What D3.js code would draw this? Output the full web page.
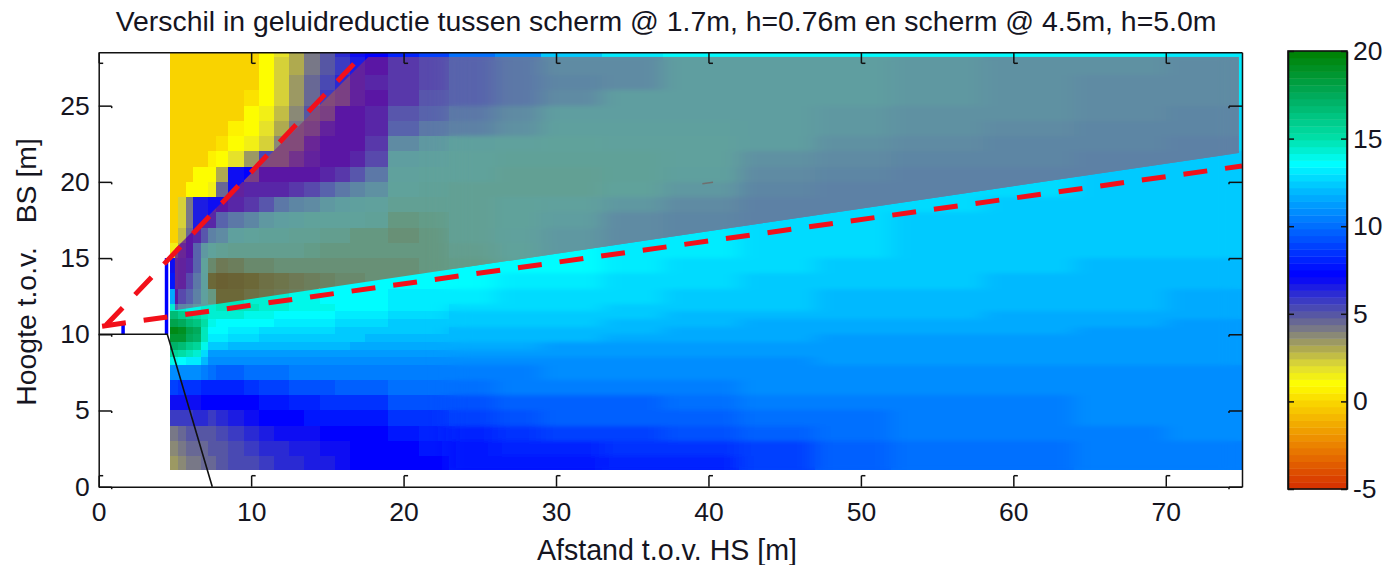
<!DOCTYPE html>
<html>
<head>
<meta charset="utf-8">
<script src="https://cdn.jsdelivr.net/npm/d3@7"></script>
<style>
  body { margin: 0; background: #fff; }
  text { font-family: "Liberation Sans", Arial, sans-serif; fill: #15151f; }
  .axis path, .axis line { stroke: #111; stroke-width: 1.5; fill: none; }
</style>
</head>
<body>
<svg id="chart" width="1398" height="565"></svg>
<script>
const G = -0.3; // the flat gold area
const _ = null; // cell that is hidden under the shadow zone, or outside it

// cell edges of the heat map (coarser to the right, where it hardly changes)
const xEdges = [4.68,5.2,5.7,6.2,6.7,7.2,7.7,8.5,9.5,10.5,11.5,12.5,13.5,14.5,15.5,16.5,17.5,19,21,23,26,29,33,37,42,47,52,58,64,70,74.8,75];
const yEdges = [28.5,28.2,27,26,25,24,23,22,21,20,19,18,17,16,15,14,13,12,11.5,11,10.5,10,9.5,9,8.5,8,7,6,5,4,3,2,1.1];

// difference in dB outside the shadow zone, rows from the top
const baseLevels = [
  [G,G,G,G,G,G,G,G,G,1,2,3,4,5,6,6.8,7.4,8,9,10,11,12.3,13.2,13.6,13.6,13.6,13.6,13.5,13.4,13.2,13],
  [G,G,G,G,G,G,G,G,G,1,2.1,3.2,4.3,5,5.8,6.6,7.2,_,_,_,_,_,_,_,_,_,_,_,_,_,13],
  [G,G,G,G,G,G,G,G,G,1,2.2,3.4,4.4,5.5,6.3,6.8,_,_,_,_,_,_,_,_,_,_,_,_,_,_,13],
  [G,G,G,G,G,G,G,G,0.2,1.2,2.2,3.4,4.6,5.7,6.5,_,_,_,_,_,_,_,_,_,_,_,_,_,_,_,13],
  [G,G,G,G,G,G,G,G,1,1.6,2.6,3.6,4.8,6,_,_,_,_,_,_,_,_,_,_,_,_,_,_,_,_,12.9],
  [G,G,G,G,G,G,G,0.6,1.1,1.9,2.9,4,5.5,_,_,_,_,_,_,_,_,_,_,_,_,_,_,_,_,_,12.9],
  [G,G,G,G,G,G,0.2,1,1.3,2.4,3.8,5,_,_,_,_,_,_,_,_,_,_,_,_,_,_,_,_,_,_,12.8],
  [G,G,G,G,0,0.8,1.1,2,3.5,5.5,6,_,_,_,_,_,_,_,_,_,_,_,_,_,_,_,_,_,12.5,12.5,12.5],
  [G,G,0,1,1.1,1.2,3.2,6.8,7.2,_,_,_,_,_,_,_,_,_,_,_,_,_,_,_,_,_,_,12.6,12.5,12.5,12.5],
  [G,G,1,1,1,1.3,4.5,6.8,_,_,_,_,_,_,_,_,_,_,_,_,_,_,_,_,_,_,12.6,12.6,12.5,12.4,12.4],
  [G,2.2,4.3,6.5,6.6,6.8,7,_,_,_,_,_,_,_,_,_,_,_,_,_,_,_,_,_,_,12.6,12.6,12.5,12.5,12.4,12.4],
  [G,2.2,4.3,6.4,6.6,6.8,_,_,_,_,_,_,_,_,_,_,_,_,_,_,_,_,_,12.9,12.7,12.6,12.5,12.5,12.4,12.4,12.4],
  [G,2.5,4.5,6.5,_,_,_,_,_,_,_,_,_,_,_,_,_,_,_,_,_,_,13.2,13,12.7,12.6,12.5,12.5,12.4,12.3,12.3],
  [1.5,3,_,_,_,_,_,_,_,_,_,_,_,_,_,_,_,_,_,_,13.6,13.5,13.3,13,12.7,12.6,12.5,12.5,12.4,12.2,12.2],
  [7,_,_,_,_,_,_,_,_,_,_,_,_,_,_,_,_,_,13.6,13.7,13.6,13.4,13.2,12.9,12.7,12.5,12.4,12.3,12.1,12,12],
  [7.5,_,_,_,_,_,_,_,_,_,_,_,_,13.7,13.7,13.7,13.7,13.7,13.6,13.5,13.3,13.1,12.9,12.8,12.5,12.3,12.2,12.1,12,11.9,11.9],
  [11.5,_,_,_,_,_,14.6,14.6,14.4,14.3,14.2,14,13.8,13.7,13.7,13.6,13.6,13.3,13.2,13,12.9,12.8,12.6,12.5,12.3,12.1,11.9,11.9,11.8,11.7,11.7],
  [14.5,14.2,14,14,14.2,14.4,14.6,14.6,14.6,14.4,14.2,14,13.9,13.8,13.7,13.6,13.4,13,13,12.7,12.7,12.6,12.4,12.4,12.2,12.1,11.9,11.8,11.8,11.7,11.7],
  [16.5,16,15.5,15.2,14.6,14.2,14.2,14.2,14,13.9,13.7,13.6,13.5,13.4,13.3,13.2,13,12.8,12.7,12.5,12.5,12.3,12.2,12.1,12,12,11.8,11.7,11.7,11.6,11.6],
  [18,17.5,16.5,16.2,15,13.8,13.7,13.6,13.5,13.4,13.3,13.2,13.1,13,12.9,12.8,12.7,12.5,12.4,12.2,12.2,12.2,12,11.9,11.7,11.6,11.6,11.5,11.5,11.4,11.4],
  [19.5,19.2,18,17.5,14.6,13.6,13.4,13.2,13,12.9,12.9,12.8,12.7,12.6,12.5,12.5,12.4,12.2,12.2,12,12,11.9,11.8,11.7,11.6,11.5,11.5,11.5,11.4,11.3,11.3],
  [18.8,18.5,17.5,17,14.6,13.2,13,12.7,12.6,12.5,12.4,12.4,12.3,12.2,12.2,12.2,12.1,12,11.9,11.8,11.8,11.8,11.7,11.5,11.5,11.4,11.4,11.4,11.3,11.3,11.3],
  [17,16.8,16,15.6,14,12.4,12.2,12.1,12,11.9,11.9,11.9,11.8,11.8,11.8,11.7,11.7,11.6,11.6,11.5,11.5,11.4,11.3,11.3,11.2,11.2,11.2,11.2,11.2,11.2,11.2],
  [15.5,15.2,14.6,14.4,12.8,11.4,11.3,11.2,11.2,11.2,11.3,11.3,11.3,11.3,11.3,11.3,11.4,11.4,11.3,11.3,11.2,11.1,11.1,11.1,11.1,11.1,11.1,11.1,11.1,11.1,11.1],
  [13.8,13.7,13.3,13.3,12,11,10.8,10.7,10.8,10.8,10.9,10.9,11,11,11,11,11,11,11,11,10.9,11,11,11,11,11.1,11.1,11.1,11.1,11.1,11.1],
  [11,11,10.8,10.8,10.4,10,9.8,9.8,10,10.1,10.2,10.3,10.4,10.4,10.5,10.5,10.5,10.5,10.5,10.6,10.6,10.7,10.7,10.9,11,10.9,10.9,11,11,11,11],
  [8.8,8.6,8.4,8.3,8.2,8,8,8.1,8.4,8.7,9,9.1,9.3,9.4,9.5,9.6,9.7,9.9,10,10.1,10.3,10.4,10.4,10.5,10.7,10.7,10.8,10.9,10.9,11,11],
  [7,7,7.1,7.1,7.2,7.2,7.2,7.3,7.4,7.6,7.8,8,8.1,8.3,8.4,8.5,8.6,9.2,9.3,9.3,9.7,9.8,9.8,10.2,10.3,10.4,10.5,10.6,10.7,10.7,10.7],
  [5.6,5.7,5.9,6,6,5.8,6.2,6.7,7.1,7.2,7.2,7.4,7.5,7.5,7.6,7.7,7.8,8.4,8.6,8.9,9.2,9.5,9.5,9.8,10,10.2,10.4,10.6,10.7,10.7,10.7],
  [4.3,4.5,4.8,4.9,5,5.1,5.4,5.8,6.2,6.6,6.8,7,7.1,7.2,7.2,7.3,7.4,7.7,7.9,8.2,8.5,8.8,9,9.3,9.6,10.2,10.3,10.4,10.6,10.7,10.7],
  [3.9,4.1,4.4,4.5,4.7,4.8,5,5.3,5.7,6,6.3,6.5,6.7,6.9,7.1,7.2,7.2,7.3,7.6,7.8,7.9,8.1,8.3,8.5,9,9.8,10,10.2,10.4,10.5,10.5],
  [3.5,3.8,4.2,4.3,4.4,4.6,4.9,5.2,5.5,5.8,6,6.2,6.5,6.7,7,7.2,7.2,7.3,7.4,7.5,7.6,7.8,8,8.2,8.9,9.6,9.9,10,10.4,10.4,10.4]
];

// difference in dB inside the shadow zone, starting at the second row
const shadowLevels = [
  [_,_,_,_,_,_,_,_,_,_,_,_,_,_,_,6.5,7,7.5,8,8.7,9.5,10.7,10.8,11.8,12,12,11.7,11.4,11.1,10.9],
  [_,_,_,_,_,_,_,_,_,_,_,_,_,_,5.5,6.6,7.2,7.8,8.2,8.8,9.6,10.6,11,12,12,12,11.6,11.3,11,10.8],
  [_,_,_,_,_,_,_,_,_,_,_,_,_,5,5.5,6.6,7,7.6,8.5,9,9.8,11,11.8,12,12,11.8,11.5,11.2,10.9,10.7],
  [_,_,_,_,_,_,_,_,_,_,_,_,5,5.2,6.8,7,7.2,8.4,9,9.5,10.8,12,12,12,11.9,11.7,11.4,11.1,10.8,10.6],
  [_,_,_,_,_,_,_,_,_,_,_,5,5.3,6.5,7,7,7.2,9,9.5,10.2,11.4,12.3,12.4,12.4,11.9,11.5,11.2,10.9,10.6,10.4],
  [_,_,_,_,_,_,_,_,_,_,5,5,6,6.8,7,7.1,7.5,10.8,11.5,12.4,12.6,13.2,12.8,12.6,12,11.4,11,10.6,10.3,10.1],
  [_,_,_,_,_,_,_,_,_,5,5,5.6,6.5,7,7,7.4,8.2,11.8,12.4,13,13.4,13.6,13.5,12.6,11.3,10.9,10.6,10.3,10.1,10],
  [_,_,_,_,_,_,_,_,5.5,6.8,6.9,7,7,7.2,7.6,8.4,9.5,12.6,13,13,13.8,14,13.4,12.2,10.8,10.4,10.2,10,9.9],
  [_,_,_,_,_,_,_,6.5,7.2,7.2,7.4,7.8,8.2,9,9.8,10.6,11.3,13.2,13.6,13.8,14,14,13,11.6,10.4,10.2,10,10],
  [_,_,_,_,_,6,7,7.2,7.8,8.6,9.6,10.5,11,11.5,12,12.3,12.6,14,14,13.8,13.2,12.6,11.6,10.8,10.2,10,9.9],
  [_,_,_,5.5,7.2,7.4,8.8,9.8,10.5,11.5,12,12.5,13,13,13,13.2,13.5,15,14.8,13.8,13,12,11,10.5,10.2,10],
  [_,5.5,7,7.2,8.5,10,11,12.5,13.2,13.6,13.6,13.8,14,14.2,14.5,15,15.3,15.4,15.3,14,12.8,11.5,10.8,10.3],
  [5.5,6,7,8.8,11.5,13,14,14.5,14.5,14.2,14.4,14.5,14.8,15,15,15.2,15.2,15.2,15,14.2,13,11.6,10.8],
  [6,6.4,7.2,9,13,16,17,16.8,16,15.8,15.6,15.6,15.6,15.5,15.5,15.4,15.4,15.4,15.2,14.6,13.5],
  [6,6.6,8,9.5,12.5,18.5,19.5,19,18.5,18,17.5,17,16.6,16.2,16,15.8,15.6,15.5,15.4],
  [7,8,9,10,12.5,15,18.5,18.8,18,17.5,17,16.6,16.2],
  [9,10.5,11,11.5,12,13,13.5]
];

// outline of the shadow zone
const shadowX = [5, 17.7, 74.8, 74.8, 5.1, 5];
const shadowY = [15.6, 28.2, 28.2, 21.9, 11.6, 11.6];

// colour stops of the colorbar
const baseStops = [-5,-2.5,0,1,2,3,4,5,6,7.2,10,12,13.6,15,17.5,20];
const baseColors = ['#d62d00','#eb8200','#fad700','#ffff00','#e1dc32','#afaa50','#808080','#5555a5','#3232cd','#0000ff','#006eff','#00b9ff','#00ffff','#00e1aa','#00aa5a','#008000'];
const shadowStops = [5,6,7,8,9,10,11,12,13,14,15,16,17,18,19,20];
const shadowColors = ['#824b7a','#6c2a94','#5816a5','#5846ac','#5869ac','#5d80a5','#5e8ea2','#5f9ea0','#60a29c','#62a094','#659a84','#698769','#6e7a55','#6e6e41','#6b6434','#695c2d'];

// screens, ground and sight lines
const lowScreenX = [1.6, 1.6];
const lowScreenY = [10, 10.7];
const highScreenX = [4.45, 4.45];
const highScreenY = [10, 15];
const groundX = [0, 4.5, 7.45];
const groundY = [10, 10, 0];
const upperRayX = [16.74, 0];
const upperRayY = [27.74, 10.09];
const lowerRayX = [0, 75];
const lowerRayY = [10.5, 21.04];
const smudgeX = [39.6, 40.3];
const smudgeY = [19.88, 19.98];

const xTicks = [0,10,20,30,40,50,60,70];
const yTicks = [0,5,10,15,20,25];
const barTicks = [-5,0,5,10,15,20];

const svg = d3.select('#chart');

const x = d3.scaleLinear().domain([0, 75]).range([98.7, 1242]);
const y = d3.scaleLinear().domain([0, 28.5]).range([486.7, 52.3]);
const barY = d3.scaleLinear().domain([-5, 20]).range([489, 51]);

const baseRamp = d3.scaleLinear().domain(baseStops).range(baseColors).clamp(true);
const shadowRamp = d3.scaleLinear().domain(shadowStops).range(shadowColors).clamp(true);

// the colormap has 64 flat bands
const bands = d3.range(64).map(i => -5 + (i + 0.5) * 25 / 64);
const baseColor = d3.scaleQuantize().domain([-5, 20]).range(bands.map(baseRamp));
const shadowColor = d3.scaleQuantize().domain([-5, 20]).range(bands.map(b => shadowRamp(b)));

const firstWideColumn = 19; // from here the cells are wide and get softened sideways

function cells(levels, firstRow, minColumn = 0) {
  const out = [];
  levels.forEach((row, r) => row.forEach((v, c) => {
    if (v !== null && c >= minColumn) out.push({ v, c, r: r + firstRow });
  }));
  return out;
}

const defs = svg.append('defs');
function blurFilter(id, deviation) {
  defs.append('filter').attr('id', id)
    .attr('filterUnits', 'userSpaceOnUse')
    .attr('x', 0).attr('y', 0).attr('width', 1398).attr('height', 565)
    .append('feGaussianBlur').attr('stdDeviation', deviation);
}
blurFilter('soft', 0.7);
blurFilter('wide', '10 2');
defs.append('clipPath').attr('id', 'shadow-zone')
  .append('polygon')
  .attr('points', shadowX.map((d, i) => `${x(d)},${y(shadowY[i])}`).join(' '));
defs.append('clipPath').attr('id', 'plot-area')
  .append('rect')
  .attr('x', x(0)).attr('y', y(28.5))
  .attr('width', x(75) - x(0)).attr('height', y(0) - y(28.5));
defs.append('clipPath').attr('id', 'image-area')
  .append('rect')
  .attr('x', x(xEdges[0])).attr('y', y(28.5))
  .attr('width', x(75) - x(xEdges[0])).attr('height', y(1.1) - y(28.5));

function drawCells(parent, data, color) {
  parent.selectAll('rect').data(data).enter().append('rect')
    .attr('x', d => x(xEdges[d.c]))
    .attr('y', d => y(yEdges[d.r]))
    .attr('width', d => x(xEdges[d.c + 1]) - x(xEdges[d.c]))
    .attr('height', d => y(yEdges[d.r + 1]) - y(yEdges[d.r]))
    .attr('shape-rendering', 'crispEdges')
    .attr('fill', d => color(d.v));
}

const heat = svg.append('g').attr('clip-path', 'url(#plot-area)');
drawCells(heat.append('g').attr('filter', 'url(#soft)'), cells(baseLevels, 0), baseColor);
drawCells(heat.append('g').attr('clip-path', 'url(#image-area)').append('g').attr('filter', 'url(#wide)'),
  cells(baseLevels.slice(1), 1, firstWideColumn), baseColor);
const shadowGroup = heat.append('g').attr('clip-path', 'url(#shadow-zone)');
drawCells(shadowGroup.append('g').attr('filter', 'url(#soft)'), cells(shadowLevels, 1), shadowColor);
drawCells(shadowGroup.append('g').attr('filter', 'url(#wide)'), cells(shadowLevels, 1, firstWideColumn), shadowColor);

const line = d3.line().x(d => x(d[0])).y(d => y(d[1]));
function drawLine(xs, ys, color, width) {
  return svg.append('path')
    .attr('d', line(d3.zip(xs, ys)))
    .attr('fill', 'none')
    .attr('stroke', color)
    .attr('stroke-width', width);
}

drawLine(smudgeX, smudgeY, '#6f6f6f', 1.5);
drawLine(lowScreenX, lowScreenY, '#0000ff', 3.5);
drawLine(highScreenX, highScreenY, '#0000ff', 3.5);
drawLine(groundX, groundY, '#111', 1.6);
drawLine(upperRayX, upperRayY, '#f2101a', 5).attr('stroke-dasharray', '24 18');
drawLine(lowerRayX, lowerRayY, '#f2101a', 5).attr('stroke-dasharray', '24 18').attr('stroke-dashoffset', 38.6);

// every tick ends in a small hook in the original
function addHooks(sel, dx, dy, hx, hy) {
  sel.selectAll('.tick').append('path')
    .attr('d', `M${dx},${dy}l${hx},${hy}`)
    .attr('stroke', '#111').attr('stroke-width', 1.5).attr('fill', 'none');
}

const bottom = svg.append('g').attr('class', 'axis')
  .attr('transform', `translate(0,${y(0)})`)
  .call(d3.axisBottom(x).tickValues(xTicks).tickSizeInner(-11).tickSizeOuter(0).tickPadding(15));
addHooks(bottom, 0, -11, 4, 0);
bottom.select('.domain').attr('stroke-width', 2.2);

const top_ = svg.append('g').attr('class', 'axis')
  .attr('transform', `translate(0,${y(28.5)})`)
  .call(d3.axisTop(x).tickValues(xTicks).tickSizeInner(-11).tickSizeOuter(0).tickFormat(''));
addHooks(top_, 0, 11, 4, 0);

const left = svg.append('g').attr('class', 'axis')
  .attr('transform', `translate(${x(0)},0)`)
  .call(d3.axisLeft(y).tickValues(yTicks).tickSizeInner(-13).tickSizeOuter(0).tickPadding(9));
addHooks(left, 13, 0, 0, 2);
left.select('.domain').attr('stroke', '#555').attr('stroke-width', 2);

const right = svg.append('g').attr('class', 'axis')
  .attr('transform', `translate(${x(75)},0)`)
  .call(d3.axisRight(y).tickValues(yTicks).tickSizeInner(-13).tickSizeOuter(0).tickFormat(''));
addHooks(right, -13, 0, 0, 2);

// colorbar
const barLeft = 1288, barWidth = 59;
svg.append('g').selectAll('rect').data(bands).enter().append('rect')
  .attr('x', barLeft)
  .attr('y', d => barY(d + 12.5 / 64))
  .attr('width', barWidth)
  .attr('height', barY(0) - barY(25 / 64) + 0.4)
  .attr('fill', d => baseColor(d));

svg.append('g').attr('class', 'axis')
  .attr('transform', `translate(${barLeft + barWidth},0)`)
  .call(d3.axisRight(barY).tickValues(barTicks).tickSizeInner(-6).tickSizeOuter(0).tickPadding(6).tickFormat(d => String(d)));
svg.append('g').attr('class', 'axis')
  .attr('transform', `translate(${barLeft},0)`)
  .call(d3.axisLeft(barY).tickValues(barTicks).tickSizeInner(-6).tickSizeOuter(0).tickFormat(''));
svg.append('rect')
  .attr('x', barLeft).attr('y', barY(20))
  .attr('width', barWidth).attr('height', barY(-5) - barY(20))
  .attr('fill', 'none').attr('stroke', '#111').attr('stroke-width', 1.6);

svg.selectAll('.axis text').style('font-size', '26.5px');

// titles
svg.append('text')
  .attr('x', 666).attr('y', 31)
  .attr('text-anchor', 'middle')
  .style('font-size', '28.4px')
  .text('Verschil in geluidreductie tussen scherm @ 1.7m, h=0.76m en scherm @ 4.5m, h=5.0m');

svg.append('text')
  .attr('x', 667).attr('y', 560)
  .attr('text-anchor', 'middle')
  .style('font-size', '28.6px')
  .text('Afstand t.o.v. HS [m]');

svg.append('text')
  .attr('transform', 'translate(36,272) rotate(-90)')
  .attr('text-anchor', 'middle')
  .style('font-size', '28.4px')
  .style('white-space', 'pre')
  .text('Hoogte t.o.v.   BS [m]');
</script>
</body>
</html>
